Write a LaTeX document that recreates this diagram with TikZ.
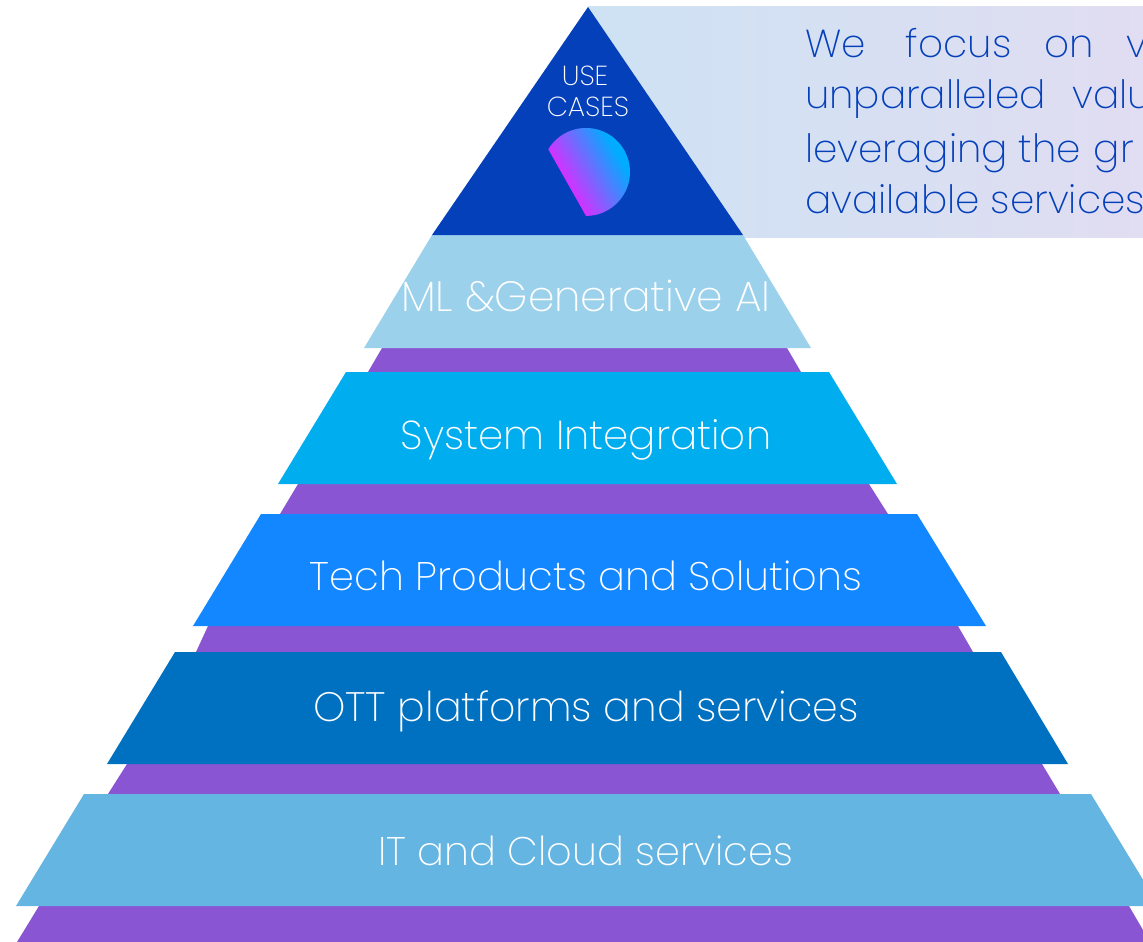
\documentclass[tikz,border=0pt]{standalone}
\usepackage{fontspec}
\setmainfont{Poppins}[UprightFont=* ExtraLight]
\definecolor{purp}{HTML}{8A55D2}
\definecolor{deep}{HTML}{0540BB}
\definecolor{mlc}{HTML}{9CD1EC}
\definecolor{sysc}{HTML}{00AEEF}
\definecolor{techc}{HTML}{1287FF}
\definecolor{ottc}{HTML}{0070C0}
\definecolor{itc}{HTML}{65B5E2}
\definecolor{panelL}{HTML}{CDE2F3}
\definecolor{panelR}{HTML}{E1DDF2}
\definecolor{magc}{HTML}{D92EFF}
\definecolor{cyac}{HTML}{00ACFF}
\pgfdeclareverticalshading{blobshade}{100bp}{color(0bp)=(magc); color(36bp)=(magc); color(66bp)=(cyac); color(100bp)=(cyac)}
\tikzset{
  x=1pt,y=-1pt,
  band/.style={fill=#1,draw=none},
  bandlabel/.style={anchor=base,text=white,inner sep=0pt,font=\fontsize{#1}{#1}\selectfont},
  smalllabel/.style={anchor=base,text=white,inner sep=0pt,font=\fontsize{27.5}{27.5}\selectfont},
  paneltext/.style={anchor=base west,text=deep,inner sep=0pt,font=\fontsize{39}{39}\selectfont}
}
\begin{document}
\begin{tikzpicture}
\useasboundingbox (0,0) rectangle (1143,942);
\begin{scope}
\clip (0,0) rectangle (1143,942);
\shade[left color=panelL,right color=panelR] (588,7) rectangle (1143,237);
\fill[purp] (382,348) -- (787,348) -- (801,372) -- (368,372) -- cycle;
\fill[purp] (298,484) -- (869,484) -- (888,514) -- (280,514) -- cycle;
\fill[purp] (208,626) -- (958,626) -- (973,652) -- (196,652) -- cycle;
\fill[purp] (127,764) -- (1042,764) -- (1060,794) -- (108,794) -- cycle;
\fill[purp] (39,906) -- (1129,906) -- (1150,942) -- (17,942) -- cycle;
\fill[band=mlc] (432,235) -- (743,235) -- (811,348) -- (364,348) -- cycle;
\fill[band=sysc] (346,372) -- (829,372) -- (897,484) -- (278,484) -- cycle;
\fill[band=techc] (261,514) -- (917,514) -- (986,626) -- (193,626) -- cycle;
\fill[band=ottc] (175,652) -- (1001,652) -- (1068,764) -- (107,764) -- cycle;
\fill[band=itc] (84,794) -- (1091,794) -- (1159,906) -- (16,906) -- cycle;
\fill[deep] (588,7) -- (743,235) -- (432,235) -- cycle;
\begin{scope}
\clip (548.3,149.3) arc[start angle=211,end angle=450,radius=44] -- cycle;
\shade[shading=blobshade,shading angle=-60] (540,120) rectangle (640,220);
\end{scope}
\end{scope}
\node[smalllabel] (usecases1) at (585,85) {USE};
\node[smalllabel] (usecases2) at (588,116) {CASES};
\node[bandlabel=42.4] (ml) at (586,311) {ML \&Generative AI};
\node[bandlabel=40.4] (sys) at (586,449) {System Integration};
\node[bandlabel=39.9] (tech) at (586,590) {Tech Products and Solutions};
\node[bandlabel=41.1] (ott) at (586,721) {OTT platforms and services};
\node[bandlabel=39.9] (it) at (586,865) {IT and Cloud services};
\node[paneltext] (p1) at (805,58) {We\hspace{40pt}focus\hspace{33pt}on\hspace{33pt}v};
\node[paneltext] (p2) at (805,108) {unparalleled\hspace{27pt}valu};
\node[paneltext] (p3) at (805,162) {leveraging the\hspace{2pt} gr};
\node[paneltext] (p4) at (805,213) {available services};
\end{tikzpicture}
\end{document}
